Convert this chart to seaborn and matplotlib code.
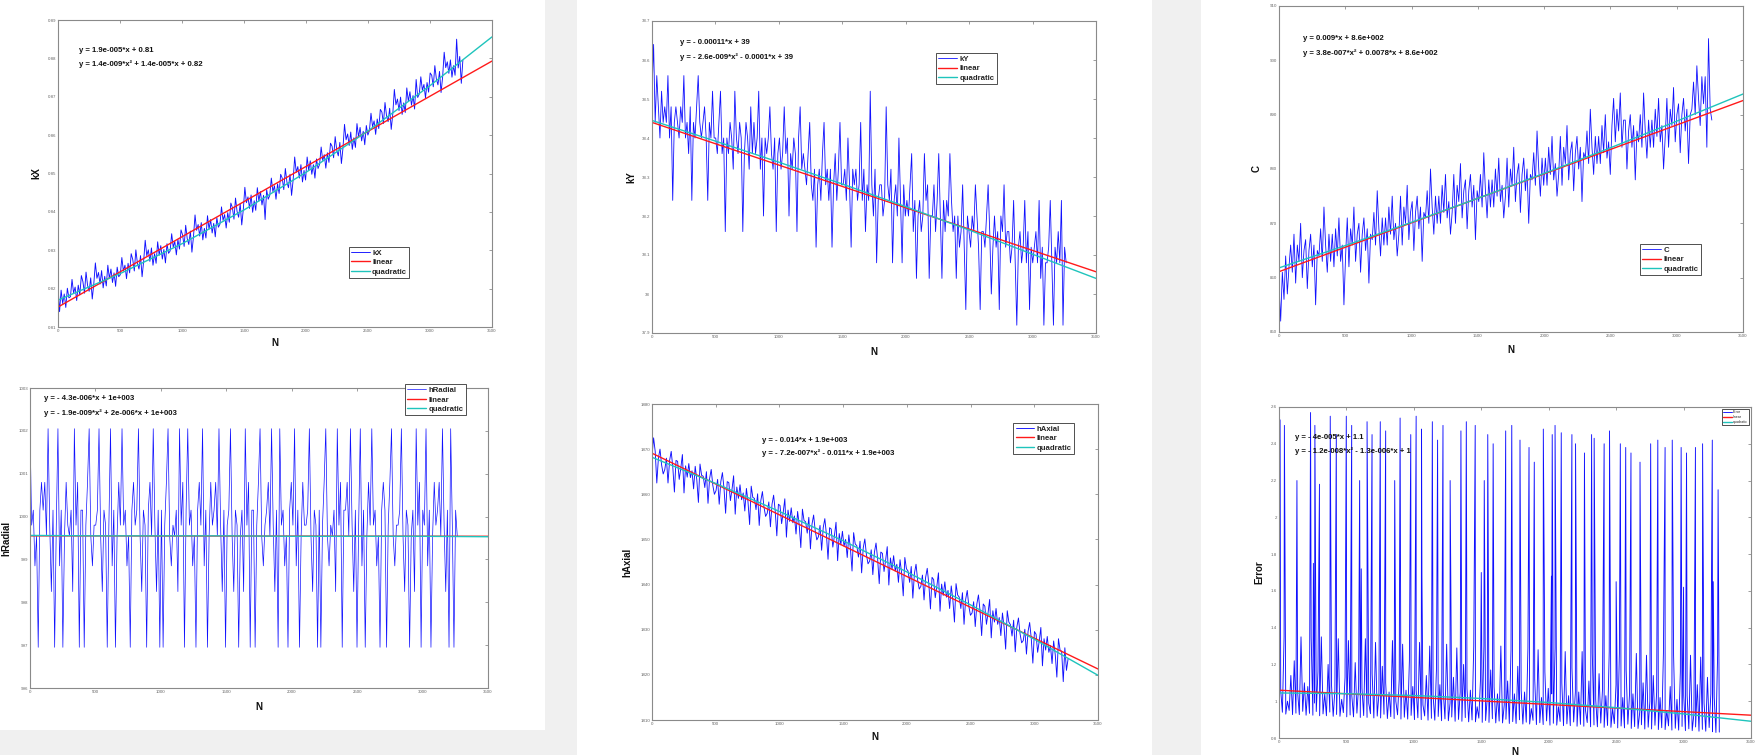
import numpy as np
import matplotlib
matplotlib.use("Agg")
import matplotlib.pyplot as plt
import seaborn as sns
from matplotlib.patches import Rectangle

# ------------------------------------------------------------------ data
N_END = 3265
FIT_X = [0, 500, 1000, 1500, 2000, 2500, 3000, 3500]
LIN_X = [0, 3500]
XTICKS = [0, 500, 1000, 1500, 2000, 2500, 3000, 3500]
XTICK_LABELS = ["0", "500", "1000", "1500", "2000", "2500", "3000", "3500"]

kx = [
    .8206, .8140, .8196, .8161, .8186, .8151, .8201, .8176,
    .8179, .8224, .8189, .8204, .8169, .8209, .8184, .8234,
    .8218, .8188, .8243, .8208, .8193, .8228, .8173, .8213,
    .8267, .8227, .8242, .8212, .8247, .8202, .8232, .8207,
    .8261, .8226, .8251, .8216, .8241, .8206, .8256, .8231,
    .8236, .8281, .8246, .8261, .8226, .8266, .8241, .8291,
    .8276, .8246, .8301, .8266, .8251, .8286, .8231, .8271,
    .8326, .8286, .8301, .8271, .8306, .8261, .8291, .8266,
    .8322, .8287, .8312, .8277, .8302, .8267, .8317, .8292,
    .8298, .8343, .8308, .8323, .8288, .8328, .8303, .8353,
    .8340, .8310, .8365, .8330, .8315, .8350, .8295, .8335,
    .8392, .8352, .8367, .8337, .8372, .8327, .8357, .8332,
    .8390, .8355, .8380, .8345, .8370, .8335, .8385, .8360,
    .8368, .8413, .8378, .8393, .8358, .8398, .8373, .8423,
    .8411, .8381, .8436, .8401, .8386, .8421, .8366, .8406,
    .8464, .8424, .8439, .8409, .8444, .8399, .8429, .8404,
    .8463, .8428, .8453, .8418, .8443, .8380, .8458, .8433,
    .8443, .8488, .8453, .8468, .8433, .8473, .8448, .8498,
    .8488, .8458, .8513, .8478, .8463, .8498, .8443, .8483,
    .8543, .8503, .8518, .8488, .8523, .8478, .8508, .8483,
    .8543, .8508, .8533, .8498, .8523, .8488, .8538, .8513,
    .8524, .8569, .8534, .8549, .8514, .8554, .8529, .8579,
    .8571, .8541, .8596, .8561, .8546, .8581, .8526, .8566,
    .8628, .8588, .8603, .8573, .8608, .8563, .8593, .8568,
    .8630, .8595, .8620, .8585, .8610, .8575, .8625, .8600,
    .8612, .8657, .8622, .8637, .8602, .8642, .8617, .8667,
    .8660, .8630, .8685, .8650, .8635, .8670, .8615, .8655,
    .8719, .8679, .8694, .8664, .8699, .8654, .8684, .8659,
    .8723, .8688, .8713, .8678, .8703, .8668, .8745, .8698,
    .8707, .8752, .8717, .8732, .8697, .8737, .8712, .8762,
    .8756, .8726, .8781, .8746, .8731, .8766, .8711, .8751,
    .8816, .8776, .8791, .8761, .8796, .8751, .8781, .8756,
    .8850, .8775, .8805, .8735, .8795]
kx_lin = [0.8152, 0.8793]
kx_quad = [0.8170, 0.8239, 0.8317, 0.8405, 0.8503, 0.8611, 0.8729, 0.8856]

ky = [
    38.52, 38.64, 38.44, 38.56, 38.48, 38.40, 38.52, 38.44,
    38.48, 38.44, 38.56, 38.40, 38.48, 38.24, 38.44, 38.48,
    38.44, 38.40, 38.48, 38.44, 38.56, 38.40, 38.44, 38.36,
    38.48, 38.24, 38.44, 38.40, 38.48, 38.56, 38.44, 38.40,
    38.44, 38.48, 38.40, 38.24, 38.44, 38.40, 38.52, 38.40,
    38.40, 38.36, 38.44, 38.52, 38.36, 38.40, 38.16, 38.40,
    38.36, 38.44, 38.40, 38.32, 38.52, 38.40, 38.36, 38.44,
    38.40, 38.16, 38.36, 38.44, 38.40, 38.32, 38.48, 38.36,
    38.44, 38.36, 38.40, 38.52, 38.32, 38.40, 38.20, 38.40,
    38.36, 38.40, 38.48, 38.36, 38.32, 38.40, 38.16, 38.36,
    38.40, 38.32, 38.36, 38.48, 38.36, 38.40, 38.20, 38.36,
    38.32, 38.40, 38.36, 38.16, 38.40, 38.48, 38.32, 38.36,
    38.32, 38.28, 38.36, 38.44, 38.28, 38.24, 38.32, 38.12,
    38.28, 38.32, 38.24, 38.36, 38.44, 38.28, 38.32, 38.24,
    38.32, 38.12, 38.28, 38.36, 38.24, 38.32, 38.44, 38.28,
    38.28, 38.32, 38.24, 38.40, 38.28, 38.12, 38.32, 38.28,
    38.32, 38.24, 38.28, 38.44, 38.24, 38.32, 38.16, 38.28,
    38.24, 38.52, 38.28, 38.20, 38.32, 38.08, 38.24, 38.28,
    38.28, 38.20, 38.24, 38.48, 38.28, 38.24, 38.32, 38.08,
    38.24, 38.28, 38.20, 38.40, 38.24, 38.08, 38.28, 38.20,
    38.24, 38.20, 38.28, 38.36, 38.16, 38.24, 38.04, 38.20,
    38.24, 38.16, 38.20, 38.36, 38.24, 38.28, 38.04, 38.20,
    38.20, 38.28, 38.16, 38.24, 38.36, 38.20, 38.04, 38.24,
    38.16, 38.24, 38.20, 38.36, 38.24, 38.16, 38.20, 38.04,
    38.20, 38.12, 38.16, 38.28, 38.12, 37.96, 38.20, 38.16,
    38.12, 38.20, 38.16, 38.28, 38.20, 38.12, 37.96, 38.16,
    38.16, 38.12, 38.20, 38.28, 38.16, 38.00, 38.12, 38.20,
    38.12, 38.16, 37.96, 38.20, 38.16, 38.28, 38.12, 38.16,
    38.16, 38.08, 38.12, 38.24, 38.08, 37.92, 38.12, 38.16,
    38.08, 38.12, 38.24, 38.08, 38.16, 37.96, 38.12, 38.08,
    38.12, 38.16, 38.08, 38.24, 38.04, 38.12, 37.92, 38.08,
    38.08, 38.12, 38.24, 38.08, 37.92, 38.12, 38.08, 38.16,
    38.08, 38.24, 37.92, 38.12, 38.08]
ky_lin = [38.44, 38.057]
ky_quad = [38.445, 38.392, 38.338, 38.282, 38.224, 38.164, 38.102, 38.040]

c_vals = [
    859, 852, 861, 856, 864, 857, 862, 866,
    861, 868, 859, 866, 863, 870, 860, 865,
    867, 858, 865, 868, 862, 866, 855, 865,
    864, 869, 863, 873, 866, 861, 868, 863,
    868, 862, 869, 864, 871, 863, 866, 855,
    864, 871, 862, 869, 866, 873, 863, 868,
    870, 861, 868, 871, 865, 869, 859, 868,
    867, 872, 866, 876, 869, 864, 871, 866,
    871, 866, 873, 868, 875, 867, 870, 864,
    868, 875, 866, 873, 870, 877, 867, 872,
    874, 865, 872, 875, 869, 873, 863, 872,
    871, 876, 870, 880, 873, 868, 875, 870,
    875, 870, 877, 872, 879, 871, 874, 868,
    872, 879, 870, 877, 874, 881, 871, 876,
    878, 869, 876, 879, 873, 877, 867, 876,
    874, 879, 873, 883, 876, 871, 878, 873,
    878, 873, 880, 875, 882, 874, 877, 871,
    875, 882, 873, 880, 877, 884, 874, 879,
    881, 872, 879, 882, 876, 880, 870, 879,
    878, 883, 877, 887, 880, 875, 882, 877,
    882, 877, 884, 879, 886, 878, 881, 875,
    879, 886, 877, 884, 881, 888, 878, 883,
    885, 876, 883, 886, 880, 884, 874, 883,
    882, 887, 881, 891, 884, 879, 886, 881,
    886, 881, 888, 883, 890, 882, 885, 879,
    888, 893, 885, 891, 887, 894, 884, 889,
    889, 880, 887, 890, 884, 888, 878, 887,
    885, 890, 884, 894, 887, 882, 889, 884,
    889, 884, 891, 886, 893, 885, 888, 880,
    886, 893, 884, 891, 888, 895, 885, 890,
    892, 883, 890, 893, 887, 891, 881, 890,
    891, 896, 890, 899, 893, 888, 897, 892,
    897, 884, 904, 891, 889]
c_lin = [861.1, 892.6]
c_quad = [861.8, 865.9, 870.2, 874.6, 879.2, 883.9, 888.8, 893.8]

hradial = [
    1002.05, 999.8, 1000.15, 998.85, 999.55, 996.95, 1000.15, 1000.8,
    1000.15, 1000.8, 999.55, 1002.05, 999.8, 998.25, 1000.15, 996.95,
    999.8, 1002.05, 998.85, 1000.15, 996.95, 999.55, 1000.8, 999.8,
    999.55, 1000.15, 998.25, 1002.05, 999.8, 1000.8, 996.95, 1000.15,
    1000.15, 996.95, 999.8, 1000.8, 1002.05, 999.55, 998.85, 999.8,
    999.8, 1000.15, 1002.05, 999.55, 998.25, 1000.15, 999.8, 996.95,
    999.8, 1002.05, 998.85, 1000.15, 996.95, 999.55, 1000.8, 999.8,
    1002.05, 999.8, 1000.15, 998.85, 999.55, 996.95, 1000.15, 1000.8,
    999.8, 1000.15, 1002.05, 999.55, 998.25, 1000.15, 999.8, 996.95,
    1000.15, 1000.8, 999.55, 1002.05, 999.8, 998.25, 1000.15, 996.95,
    1000.15, 996.95, 999.8, 1000.8, 1002.05, 999.55, 998.85, 999.8,
    999.55, 1000.15, 998.25, 1002.05, 999.8, 1000.8, 996.95, 1000.15,
    1002.05, 999.8, 1000.15, 998.85, 999.55, 996.95, 1000.15, 1000.8,
    999.8, 1002.05, 998.85, 1000.15, 996.95, 999.55, 1000.8, 999.8,
    1000.15, 1000.8, 999.55, 1002.05, 999.8, 998.25, 1000.15, 996.95,
    999.8, 1000.15, 1002.05, 999.55, 998.25, 1000.15, 999.8, 996.95,
    999.55, 1000.15, 998.25, 1002.05, 999.8, 1000.8, 996.95, 1000.15,
    1000.15, 996.95, 999.8, 1000.8, 1002.05, 999.55, 998.85, 999.8,
    1000.15, 1000.8, 999.55, 1002.05, 999.8, 998.25, 1000.15, 996.95,
    1002.05, 999.8, 1000.15, 998.85, 999.55, 996.95, 1000.15, 1000.8,
    999.8, 1002.05, 998.85, 1000.15, 996.95, 999.55, 1000.8, 999.8,
    999.8, 1000.15, 1002.05, 999.55, 998.25, 1000.15, 999.8, 996.95,
    1000.15, 996.95, 999.8, 1000.8, 1002.05, 999.55, 998.85, 999.8,
    999.55, 1000.15, 998.25, 1002.05, 999.8, 1000.8, 996.95, 1000.15,
    1000.15, 1000.8, 999.55, 1002.05, 999.8, 998.25, 1000.15, 996.95,
    999.8, 1002.05, 998.85, 1000.15, 996.95, 999.55, 1000.8, 999.8,
    1002.05, 999.8, 1000.15, 998.85, 999.55, 996.95, 1000.15, 1000.8,
    1000.15, 996.95, 999.8, 1000.8, 1002.05, 999.55, 998.85, 999.8,
    999.8, 1000.15, 1002.05, 999.55, 998.25, 1000.15, 999.8, 996.95,
    999.55, 1000.15, 998.25, 1002.05, 999.8, 1000.8, 996.95, 1000.15,
    999.8, 1002.05, 998.85, 1000.15, 996.95, 999.55, 1000.8, 999.8,
    1000.15, 1000.8, 999.55, 1002.05, 999.8, 998.25, 1000.15, 996.95,
    1002.05, 999.8, 996.95, 1000.15, 999.55]
hradial_lin = [999.55, 999.54]
hradial_quad = [999.56, 999.55, 999.55, 999.55, 999.54, 999.54, 999.54, 999.53]

haxial = [
    1868.5, 1872.5, 1869.5, 1862.5, 1868.0, 1870.0, 1866.5, 1864.5,
    1865.5, 1868.0, 1862.5, 1867.5, 1869.5, 1866.0, 1860.5, 1867.5,
    1867.3, 1863.3, 1865.8, 1868.8, 1860.3, 1866.3, 1863.8, 1866.8,
    1863.7, 1865.2, 1861.2, 1866.2, 1863.2, 1858.2, 1866.7, 1864.2,
    1864.0, 1861.5, 1865.0, 1858.0, 1863.5, 1865.5, 1862.0, 1860.0,
    1860.8, 1863.3, 1857.8, 1862.8, 1864.8, 1861.3, 1855.8, 1862.8,
    1862.6, 1858.6, 1861.1, 1864.1, 1855.6, 1861.6, 1859.1, 1862.1,
    1858.8, 1860.3, 1856.3, 1861.3, 1858.3, 1853.3, 1861.8, 1859.3,
    1859.1, 1856.6, 1860.1, 1853.1, 1858.6, 1860.6, 1857.1, 1855.1,
    1855.8, 1858.3, 1852.8, 1857.8, 1859.8, 1856.3, 1850.8, 1857.8,
    1857.5, 1853.5, 1856.0, 1859.0, 1850.5, 1856.5, 1854.0, 1857.0,
    1853.7, 1855.2, 1851.2, 1856.2, 1853.2, 1848.2, 1856.7, 1854.2,
    1853.9, 1851.4, 1854.9, 1847.9, 1853.4, 1855.4, 1851.9, 1849.9,
    1850.6, 1853.1, 1847.6, 1852.6, 1854.6, 1851.1, 1845.6, 1852.6,
    1852.3, 1848.3, 1850.8, 1853.8, 1845.3, 1851.3, 1848.8, 1851.8,
    1848.5, 1850.0, 1846.0, 1851.0, 1848.0, 1843.0, 1851.5, 1849.0,
    1848.6, 1846.1, 1849.6, 1842.6, 1848.1, 1850.1, 1846.6, 1844.6,
    1845.2, 1847.7, 1842.2, 1847.2, 1849.2, 1845.7, 1840.2, 1847.2,
    1846.9, 1842.9, 1845.4, 1848.4, 1839.9, 1845.9, 1843.4, 1846.4,
    1843.0, 1844.5, 1840.5, 1845.5, 1842.5, 1837.5, 1846.0, 1843.5,
    1843.0, 1840.5, 1844.0, 1837.0, 1842.5, 1844.5, 1841.0, 1839.0,
    1839.6, 1842.1, 1836.6, 1841.6, 1843.6, 1840.1, 1834.6, 1841.6,
    1841.1, 1837.1, 1839.6, 1842.6, 1834.1, 1840.1, 1837.6, 1840.6,
    1837.2, 1838.7, 1834.7, 1839.7, 1836.7, 1831.7, 1840.2, 1837.7,
    1837.2, 1834.7, 1838.2, 1831.2, 1836.7, 1838.7, 1835.2, 1833.2,
    1833.7, 1836.2, 1830.7, 1835.7, 1837.7, 1834.2, 1828.7, 1835.7,
    1835.2, 1831.2, 1833.7, 1836.7, 1828.2, 1834.2, 1831.7, 1834.7,
    1831.2, 1832.7, 1828.7, 1833.7, 1830.7, 1825.7, 1834.2, 1831.7,
    1831.1, 1828.6, 1832.1, 1825.1, 1830.6, 1832.6, 1829.1, 1827.1,
    1827.6, 1830.1, 1824.6, 1829.6, 1831.6, 1828.1, 1822.6, 1829.6,
    1829.0, 1825.0, 1827.5, 1830.5, 1822.0, 1828.0, 1825.5, 1828.5,
    1825.0, 1826.5, 1822.5, 1827.5, 1824.5, 1819.5, 1828.0, 1825.5,
    1825.2, 1818.5, 1826.0, 1821.0, 1823.5]
haxial_lin = [1869.1, 1821.3]
haxial_quad = [1868.2, 1862.4, 1856.2, 1849.7, 1842.8, 1835.5, 1827.9, 1819.9]

error_base = [
    0.930, 1.06, 0.940, 1.35, 0.930, 1.00, 0.950, 1.14,
    0.927, 1.22, 0.935, 1.05, 0.927, 1.35, 0.945, 1.10,
    0.924, 1.08, 0.934, 1.35, 0.924, 0.99, 0.944, 1.16,
    0.921, 1.35, 0.931, 1.04, 0.921, 1.20, 0.941, 1.09,
    0.918, 1.06, 0.928, 1.34, 0.918, 1.01, 0.938, 1.13,
    0.915, 1.33, 0.925, 1.03, 0.915, 1.21, 0.935, 1.08,
    0.912, 1.07, 0.922, 1.34, 0.912, 0.99, 0.932, 1.15,
    0.909, 1.32, 0.919, 1.04, 0.909, 1.19, 0.929, 1.10,
    0.906, 1.05, 0.916, 1.33, 0.906, 1.00, 0.926, 1.12,
    0.903, 1.31, 0.913, 1.06, 0.903, 1.22, 0.923, 1.08,
    0.900, 1.06, 0.910, 1.32, 0.900, 0.98, 0.920, 1.14,
    0.897, 1.30, 0.907, 1.03, 0.897, 1.18, 0.917, 1.09,
    0.894, 1.05, 0.904, 1.31, 0.894, 0.99, 0.914, 1.13,
    0.891, 1.29, 0.901, 1.05, 0.891, 1.20, 0.911, 1.07,
    0.888, 1.06, 0.898, 1.30, 0.888, 0.97, 0.908, 1.12,
    0.885, 1.30, 0.895, 1.02, 0.885, 1.17, 0.905, 1.08,
    0.882, 1.04, 0.892, 1.30, 0.882, 0.98, 0.902, 1.11,
    0.879, 1.28, 0.889, 1.04, 0.879, 1.19, 0.899, 1.06,
    0.876, 1.05, 0.886, 1.29, 0.876, 0.96, 0.896, 1.12,
    0.873, 1.28, 0.883, 1.02, 0.873, 1.16, 0.893, 1.07,
    0.870, 1.04, 0.880, 1.29, 0.870, 0.97, 0.890, 1.10,
    0.867, 1.27, 0.877, 1.03, 0.867, 1.18, 0.887, 1.05,
    0.864, 1.05, 0.874, 1.27, 0.864, 0.95, 0.884, 1.11,
    0.861, 1.26, 0.871, 1.01, 0.861, 1.15, 0.881, 1.06,
    0.858, 1.03, 0.868, 1.27, 0.858, 0.96, 0.878, 1.09,
    0.855, 1.26, 0.865, 1.02, 0.855, 1.17, 0.875, 1.04,
    0.852, 1.04, 0.862, 1.26, 0.852, 0.94, 0.872, 1.10,
    0.849, 1.25, 0.859, 1.00, 0.849, 1.14, 0.869, 1.05,
    0.846, 1.02, 0.856, 1.26, 0.846, 0.95, 0.866, 1.08,
    0.843, 1.25, 0.853, 1.01, 0.843, 1.16, 0.863, 1.03,
    0.840, 1.03, 0.850, 1.25, 0.840, 0.93, 0.860, 1.09,
    0.837, 1.24, 0.847, 0.99, 0.837, 1.13, 0.857, 1.04,
    0.834, 1.02, 0.830, 1.25, 0.832]
error_spike_n = [8, 40, 133, 234, 255, 266, 300, 380, 425, 499, 539, 598, 610, 653, 690,
                 751, 791, 858, 898, 977, 1017, 1057, 1060, 1137, 1176, 1216, 1269, 1349,
                 1389, 1455, 1500, 1522, 1548, 1588, 1681, 1726, 1787, 1854, 1893, 1960,
                 2020, 2026, 2047, 2093, 2172, 2199, 2265, 2318, 2337, 2411, 2451, 2500,
                 2531, 2571, 2610, 2677, 2756, 2809, 2863, 2916, 2982, 3000, 3022, 3088,
                 3141, 3213, 3220, 3256]
error_spike_v = [2.53, 2.50, 2.20, 2.57, 1.75, 2.50, 2.18, 2.55, 2.45, 2.55, 2.50, 2.20, 1.72,
                 2.52, 2.45, 2.52, 2.47, 2.20, 2.54, 2.45, 2.55, 2.48, 1.68, 2.52, 2.42,
                 2.50, 2.20, 2.47, 2.52, 2.50, 1.70, 2.20, 2.45, 2.40, 2.47, 2.50, 2.42,
                 2.38, 2.30, 2.48, 1.68, 2.45, 2.50, 2.46, 2.45, 2.40, 2.35, 2.45, 2.43,
                 2.40, 2.47, 1.65, 2.40, 2.38, 2.35, 2.30, 2.40, 2.42, 2.38, 2.42, 2.38,
                 1.62, 2.35, 2.38, 2.40, 2.42, 1.65, 2.15]
error_lin = [1.060, 0.924]
error_quad = [1.045, 1.041, 1.031, 1.015, 0.993, 0.965, 0.931, 0.891]

# ------------------------------------------------------------------ style
sns.set_theme(style="white")
plt.rcParams["font.family"] = ["Liberation Sans", "DejaVu Sans"]

W, H = 1761, 755
fig = plt.figure(figsize=(W / 100, H / 100), dpi=100)
fig.patch.set_facecolor("white")

GREY = "#f0f0f0"
for (x0, y0, x1, y1) in [(545, 0, 577, 755), (1152, 0, 1201, 755), (0, 730, 545, 755)]:
    fig.add_artist(Rectangle((x0 / W, 1 - y1 / H), (x1 - x0) / W, (y1 - y0) / H,
                             transform=fig.transFigure, facecolor=GREY,
                             edgecolor="none", zorder=0))

BLUE = "#1010ff"
RED = "#ff1a1a"
CYAN = "#1fc4bc"


def pct_axes(l, t, r, b):
    return fig.add_axes([l / W, 1 - b / H, (r - l) / W, (b - t) / H])


def error_series():
    xb = np.linspace(0, N_END, len(error_base))
    xs = np.concatenate([xb, np.array(error_spike_n, float)])
    ys = np.concatenate([np.array(error_base), np.array(error_spike_v)])
    order = np.argsort(xs, kind="stable")
    return xs[order], ys[order]


panels = [
    dict(box=(58, 20, 492, 327), name="kX", y=kx, lin=kx_lin, quad=kx_quad,
         ylim=(0.81, 0.89), yticks=[0.81, 0.82, 0.83, 0.84, 0.85, 0.86, 0.87, 0.88, 0.89],
         ylabels=["0.81", "0.82", "0.83", "0.84", "0.85", "0.86", "0.87", "0.88", "0.89"],
         eq=(79, 51, 64, "y = 1.9e-005*x + 0.81", "y = 1.4e-009*x² + 1.4e-005*x + 0.82"),
         leg=("lower left", (0.67, 0.16), 5.6, "bold"), lw=0.65,
         lab=(-0.039, -0.036)),
    dict(box=(652, 21, 1096, 333), name="kY", y=ky, lin=ky_lin, quad=ky_quad,
         ylim=(37.9, 38.7), yticks=[37.9, 38.0, 38.1, 38.2, 38.3, 38.4, 38.5, 38.6, 38.7],
         ylabels=["37.9", "38", "38.1", "38.2", "38.3", "38.4", "38.5", "38.6", "38.7"],
         eq=(680, 43, 57, "y = - 0.00011*x + 39", "y = - 2.6e-009*x² - 0.0001*x + 39"),
         leg=("upper left", (0.64, 0.897), 5.6, "bold"), lw=0.6,
         lab=(-0.036, -0.045)),
    dict(box=(1279, 6, 1743, 332), name="C", y=c_vals, lin=c_lin, quad=c_quad,
         ylim=(850, 910), yticks=[850, 860, 870, 880, 890, 900, 910],
         ylabels=["850", "860", "870", "880", "890", "900", "910"],
         eq=(1303, 39, 53, "y = 0.009*x + 8.6e+002", "y = 3.8e-007*x² + 0.0078*x + 8.6e+002"),
         leg=("lower left", (0.778, 0.175), 5.6, "bold"), lw=0.6,
         lab=(-0.037, -0.04)),
    dict(box=(30, 388, 488, 688), name="hRadial", y=hradial, lin=hradial_lin, quad=hradial_quad,
         ylim=(996, 1003), yticks=[996, 997, 998, 999, 1000, 1001, 1002, 1003],
         ylabels=["996", "997", "998", "999", "1000", "1001", "1002", "1003"],
         eq=(44, 399, 413, "y = - 4.3e-006*x + 1e+003", "y = - 1.9e-009*x² + 2e-006*x + 1e+003"),
         leg=("upper left", (0.819, 1.012), 5.6, "bold"), lw=0.5,
         lab=(-0.041, -0.047)),
    dict(box=(652, 404, 1098, 720), name="hAxial", y=haxial, lin=haxial_lin, quad=haxial_quad,
         ylim=(1810, 1880), yticks=[1810, 1820, 1830, 1840, 1850, 1860, 1870, 1880],
         ylabels=["1810", "1820", "1830", "1840", "1850", "1860", "1870", "1880"],
         eq=(762, 440, 453, "y = - 0.014*x + 1.9e+003", "y = - 7.2e-007*x² - 0.011*x + 1.9e+003"),
         leg=("upper left", (0.81, 0.94), 5.6, "bold"), lw=0.65,
         lab=(-0.043, -0.038)),
    dict(box=(1279, 407, 1751, 738), name="Error", y=None, lin=error_lin, quad=error_quad,
         ylim=(0.8, 2.6), yticks=[0.8, 1.0, 1.2, 1.4, 1.6, 1.8, 2.0, 2.2, 2.4, 2.6],
         ylabels=["0.8", "1", "1.2", "1.4", "1.6", "1.8", "2", "2.2", "2.4", "2.6"],
         eq=(1295, 437, 451, "y = - 4e-005*x + 1.1", "y = - 1.2e-008*x² - 1.3e-006*x + 1"),
         leg=("upper right", (0.995, 0.993), 2.6, "normal"), lw=0.65,
         lab=(-0.032, -0.027)),
]

for p in panels:
    ax = pct_axes(*p["box"])
    ax.set_facecolor("white")
    if p["y"] is None:
        xs, ys = error_series()
    else:
        ys = np.array(p["y"], float)
        xs = np.linspace(0, N_END, len(ys))
    sns.lineplot(x=xs, y=ys, ax=ax, color=BLUE, lw=p["lw"], label=p["name"],
                 estimator=None, sort=False)
    sns.lineplot(x=LIN_X, y=p["lin"], ax=ax, color=RED, lw=1.0, label="linear",
                 estimator=None, sort=False)
    sns.lineplot(x=FIT_X, y=p["quad"], ax=ax, color=CYAN, lw=1.0, label="quadratic",
                 estimator=None, sort=False)

    ax.set_xlim(0, 3500)
    ax.set_ylim(*p["ylim"])
    ax.set_xticks(XTICKS)
    ax.set_xticklabels(XTICK_LABELS)
    ax.set_yticks(p["yticks"])
    ax.set_yticklabels(p["ylabels"])
    ax.tick_params(axis="both", which="both", direction="in", length=2.5, width=0.5,
                   labelsize=3.2, labelcolor="#666666", color="#777777",
                   top=True, right=True, pad=1.5)
    for s in ax.spines.values():
        s.set_visible(True)
        s.set_color("#8a8a8a")
        s.set_linewidth(0.8)

    ax.set_xlabel("N", fontsize=7, fontweight="bold", color="#111111")
    ax.set_ylabel(p["name"], fontsize=7, fontweight="bold", color="#111111")
    ax.yaxis.set_label_coords(p["lab"][0], 0.5)
    ax.xaxis.set_label_coords(0.5, p["lab"][1])

    loc, anchor, fs, fw = p["leg"]
    leg = ax.legend(loc=loc, bbox_to_anchor=anchor, borderaxespad=0,
                    prop={"size": fs, "weight": fw}, fancybox=False,
                    edgecolor="#333333", framealpha=1, handlelength=2.4,
                    handletextpad=0.3, labelspacing=0.25, borderpad=0.3)
    leg.get_frame().set_linewidth(0.6)

    ex, ey1, ey2, t1, t2 = p["eq"]
    fig.text(ex / W, 1 - ey1 / H, t1, fontsize=5.6, fontweight="bold",
             va="center", ha="left", color="#111111")
    fig.text(ex / W, 1 - ey2 / H, t2, fontsize=5.6, fontweight="bold",
             va="center", ha="left", color="#111111")

fig.savefig("out.png", dpi=100, facecolor="white")
